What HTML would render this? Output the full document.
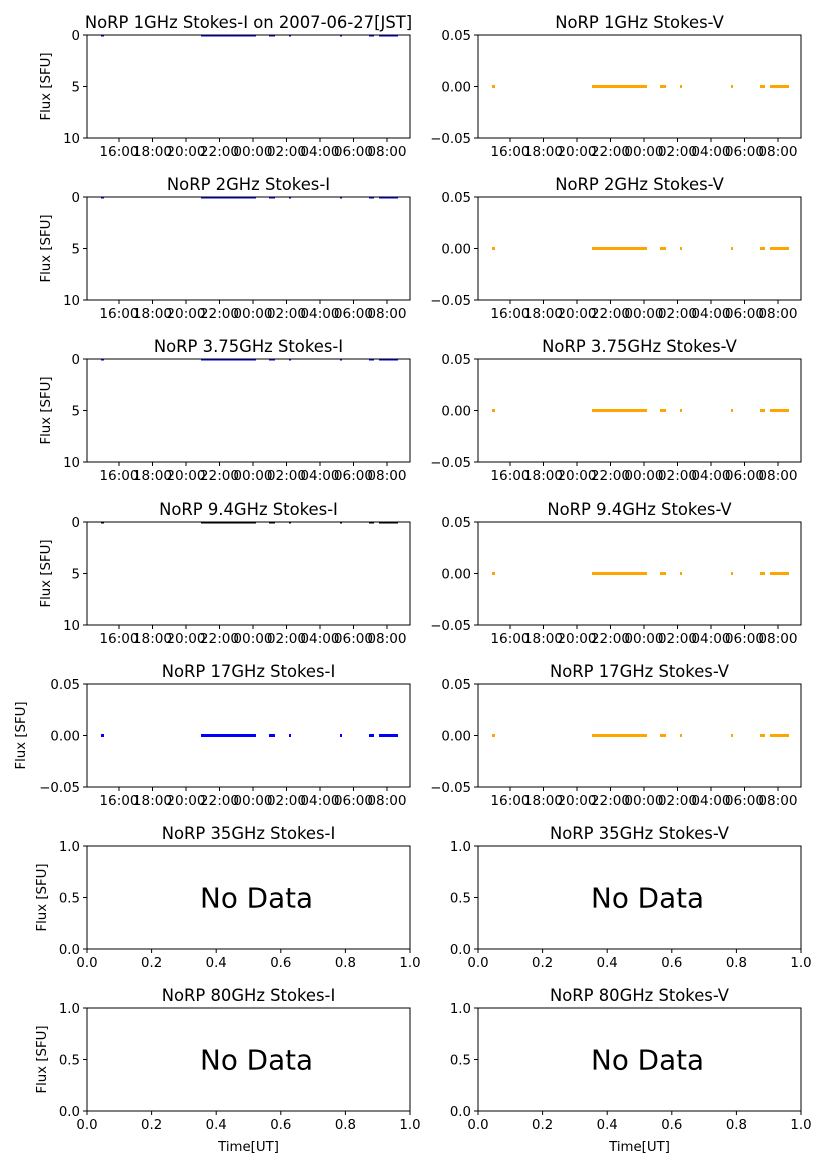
<!DOCTYPE html>
<html><head><meta charset="utf-8">
<style>
html,body{margin:0;padding:0;background:#fff;}
svg{display:block;font-family:"DejaVu Sans","Liberation Sans",sans-serif;}
</style></head>
<body>
<svg id="s" width="827" height="1169" xmlns="http://www.w3.org/2000/svg"></svg>
<script>
var s=document.getElementById('s'),h='';
var tops=[35,197,359,522,684,846,1008],H=103,W=323;
var cols=[87,478];
var fr=['1GHz','2GHz','3.75GHz','9.4GHz','17GHz','35GHz','80GHz'];
var times=['16:00','18:00','20:00','22:00','00:00','02:00','04:00','06:00','08:00'];
var segs=[[14,16],[114,168],[182,187],[202,203],[253,254],[282,286],[292,295],[296,310]];
function t(x,y,str,sz,anc,extra){h+='<text x="'+x+'" y="'+y+'" font-size="'+sz+'" text-anchor="'+(anc||'middle')+'" '+(extra||'')+'>'+str+'</text>';}
for(var r=0;r<7;r++){
 for(var c=0;c<2;c++){
  var x0=cols[c],y0=tops[r];
  var title='NoRP '+fr[r]+' Stokes-'+(c?'V':'I')+(r==0&&c==0?' on 2007-06-27[JST]':'');
  t(x0+W/2,y0-7,title,16.4);
  var yl;
  if(r>=5) yl=['1.0','0.5','0.0'];
  else if(c==1||r==4) yl=['0.05','0.00','\u22120.05'];
  else yl=['0','5','10'];
  for(var k=0;k<3;k++){var yy=y0+k*H/2;h+='<line x1="'+(x0-4)+'" y1="'+yy+'" x2="'+x0+'" y2="'+yy+'" stroke="#000" stroke-width="1"/>';t(x0-7,yy+4.8,yl[k],13.3,'end');}
  if(c==0){var lx=(r==4)?25:(r>=5?46:50);t(lx,y0+H/2,'Flux [SFU]',13.3,'middle','transform="rotate(-90 '+lx+' '+(y0+H/2)+')"');}
  var yb=y0+H;
  if(r<5){
   for(var k=0;k<9;k++){var xx=x0+32+33.5*k;h+='<line x1="'+xx+'" y1="'+yb+'" x2="'+xx+'" y2="'+(yb+4)+'" stroke="#000"/>';t(xx,yb+18,times[k],13.6);}
   var col=c?'orange':(r==3?'#000':'blue');
   var yy=(c==1||r==4)?y0+H/2:y0+0.5;
   var th=(c==1||r==4)?3:2;
   for(var q=0;q<segs.length;q++){h+='<rect x="'+(x0+segs[q][0])+'" y="'+(yy-th/2)+'" width="'+(segs[q][1]-segs[q][0]+1)+'" height="'+th+'" fill="'+col+'"/>';}
  } else {
   for(var k=0;k<6;k++){var xx=x0+W*k/5;h+='<line x1="'+xx+'" y1="'+yb+'" x2="'+xx+'" y2="'+(yb+4)+'" stroke="#000"/>';t(xx,yb+18,(k/5).toFixed(1),13.3);}
   t(x0+0.35*W,y0+H/2+10,'No Data',27.8,'start');
   if(r==6)t(x0+W/2,1151,'Time[UT]',13.3);
  }
  h+='<rect x="'+x0+'" y="'+y0+'" width="'+W+'" height="'+H+'" fill="none" stroke="#000" stroke-width="1"/>';
 }
}
s.innerHTML=h;
</script>
</body></html>
